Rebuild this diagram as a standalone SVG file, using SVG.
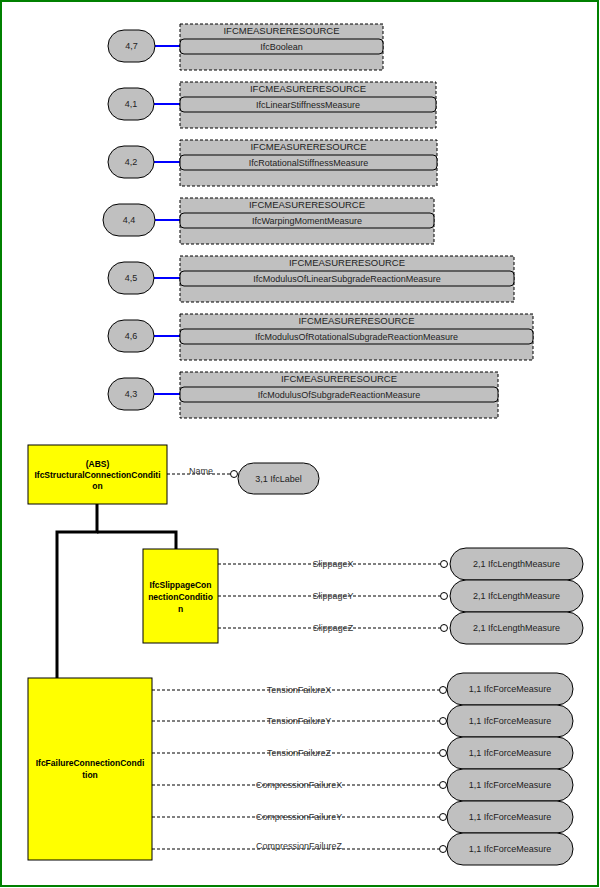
<svg xmlns="http://www.w3.org/2000/svg" width="600" height="888" viewBox="0 0 600 888">
<style>
text{font-family:"Liberation Sans",Arial,sans-serif;fill:#222;}
.pkg{fill:#c0c0c0;stroke:#000;stroke-width:1;stroke-dasharray:3,2;}
.inner{fill:#c0c0c0;stroke:#000;stroke-width:1;}
.oval{fill:#c0c0c0;stroke:#000;stroke-width:1;}
.ent{fill:#ffff00;stroke:#000;stroke-width:1;}
.hdr{font-size:9.5px;text-anchor:middle;}
.t9{font-size:9px;text-anchor:middle;}
.bold{font-size:8.5px;font-weight:bold;text-anchor:middle;fill:#000;}
.blue{stroke:#0000ff;stroke-width:2;fill:none;}
.dash{stroke:#000;stroke-width:1;stroke-dasharray:3,2;fill:none;}
.tree{stroke:#000;stroke-width:3;fill:none;}
.circ{fill:#fff;stroke:#000;stroke-width:1;}
.lbl{font-size:9px;text-anchor:middle;fill:#333;}
</style>
<rect x="1" y="1" width="597" height="885" fill="#fff" stroke="#008000" stroke-width="2"/>

<g id="connectors">
  <line class="blue" x1="155" y1="46" x2="180" y2="46"/>
  <line class="blue" x1="154" y1="104" x2="180" y2="104"/>
  <line class="blue" x1="154" y1="162" x2="180" y2="162"/>
  <line class="blue" x1="155" y1="220" x2="180" y2="220"/>
  <line class="blue" x1="154" y1="278" x2="180" y2="278"/>
  <line class="blue" x1="154" y1="336" x2="180" y2="336"/>
  <line class="blue" x1="154" y1="394" x2="180" y2="394"/>

  <polyline class="tree" points="97,504 97,532 57,532 57,678"/>
  <polyline class="tree" points="97,532 176,532 176,549"/>

  <line class="dash" x1="167" y1="474" x2="230" y2="474"/>
  <circle class="circ" cx="234" cy="474" r="3.5"/>
  <text class="lbl" x="201" y="474" fill="#223">Name</text>

  <line class="dash" x1="218" y1="564" x2="440" y2="564"/>
  <circle class="circ" cx="444" cy="564" r="3.5"/>
  <text class="lbl" x="333" y="567">SlippageX</text>
  <line class="dash" x1="218" y1="596" x2="440" y2="596"/>
  <circle class="circ" cx="444" cy="596" r="3.5"/>
  <text class="lbl" x="333" y="599">SlippageY</text>
  <line class="dash" x1="218" y1="628" x2="440" y2="628"/>
  <circle class="circ" cx="444" cy="628" r="3.5"/>
  <text class="lbl" x="333" y="631">SlippageZ</text>

  <line class="dash" x1="152" y1="690" x2="439" y2="690"/>
  <circle class="circ" cx="443" cy="690" r="3.5"/>
  <text class="lbl" x="299" y="693">TensionFailureX</text>
  <line class="dash" x1="152" y1="721" x2="439" y2="721"/>
  <circle class="circ" cx="443" cy="721" r="3.5"/>
  <text class="lbl" x="299" y="724">TensionFailureY</text>
  <line class="dash" x1="152" y1="753" x2="439" y2="753"/>
  <circle class="circ" cx="443" cy="753" r="3.5"/>
  <text class="lbl" x="299" y="756">TensionFailureZ</text>
  <line class="dash" x1="152" y1="785" x2="439" y2="785"/>
  <circle class="circ" cx="443" cy="785" r="3.5"/>
  <text class="lbl" x="299" y="788">CompressionFailureX</text>
  <line class="dash" x1="152" y1="817" x2="439" y2="817"/>
  <circle class="circ" cx="443" cy="817" r="3.5"/>
  <text class="lbl" x="299" y="820">CompressionFailureY</text>
  <line class="dash" x1="152" y1="849" x2="439" y2="849"/>
  <circle class="circ" cx="443" cy="849" r="3.5"/>
  <text class="lbl" x="299" y="849">CompressionFailureZ</text>
</g>

<g id="n47">
  <rect class="oval" x="108" y="30" width="47" height="32" rx="16"/>
  <text class="t9" x="131.5" y="49">4,7</text>
</g>
<g id="p47">
  <rect class="pkg" x="180" y="24" width="203" height="46"/>
  <text class="hdr" x="281.5" y="34">IFCMEASURERESOURCE</text>
  <rect class="inner" x="180" y="39" width="203" height="15" rx="4"/>
  <text class="t9" x="281.5" y="49.5">IfcBoolean</text>
</g>

<g id="n41">
  <rect class="oval" x="108" y="88" width="46" height="32" rx="16"/>
  <text class="t9" x="131" y="107">4,1</text>
</g>
<g id="p41">
  <rect class="pkg" x="180" y="82" width="256" height="46"/>
  <text class="hdr" x="308" y="92">IFCMEASURERESOURCE</text>
  <rect class="inner" x="180" y="97" width="256" height="15" rx="4"/>
  <text class="t9" x="308" y="107.5">IfcLinearStiffnessMeasure</text>
</g>

<g id="n42">
  <rect class="oval" x="108" y="146" width="46" height="32" rx="16"/>
  <text class="t9" x="131" y="165">4,2</text>
</g>
<g id="p42">
  <rect class="pkg" x="180" y="140" width="257" height="46"/>
  <text class="hdr" x="308.5" y="150">IFCMEASURERESOURCE</text>
  <rect class="inner" x="180" y="155" width="257" height="15" rx="4"/>
  <text class="t9" x="308.5" y="165.5">IfcRotationalStiffnessMeasure</text>
</g>

<g id="n44">
  <rect class="oval" x="103" y="204" width="52" height="32" rx="16"/>
  <text class="t9" x="129" y="223">4,4</text>
</g>
<g id="p44">
  <rect class="pkg" x="180" y="198" width="254" height="46"/>
  <text class="hdr" x="307" y="208">IFCMEASURERESOURCE</text>
  <rect class="inner" x="180" y="213" width="254" height="15" rx="4"/>
  <text class="t9" x="307" y="223.5">IfcWarpingMomentMeasure</text>
</g>

<g id="n45">
  <rect class="oval" x="108" y="262" width="46" height="32" rx="16"/>
  <text class="t9" x="131" y="281">4,5</text>
</g>
<g id="p45">
  <rect class="pkg" x="180" y="256" width="334" height="46"/>
  <text class="hdr" x="347" y="266">IFCMEASURERESOURCE</text>
  <rect class="inner" x="180" y="271" width="334" height="15" rx="4"/>
  <text class="t9" x="347" y="281.5">IfcModulusOfLinearSubgradeReactionMeasure</text>
</g>

<g id="n46">
  <rect class="oval" x="108" y="320" width="46" height="32" rx="16"/>
  <text class="t9" x="131" y="339">4,6</text>
</g>
<g id="p46">
  <rect class="pkg" x="180" y="314" width="353" height="46"/>
  <text class="hdr" x="356.5" y="324">IFCMEASURERESOURCE</text>
  <rect class="inner" x="180" y="329" width="353" height="15" rx="4"/>
  <text class="t9" x="356.5" y="339.5">IfcModulusOfRotationalSubgradeReactionMeasure</text>
</g>

<g id="n43">
  <rect class="oval" x="108" y="378" width="46" height="32" rx="16"/>
  <text class="t9" x="131" y="397">4,3</text>
</g>
<g id="p43">
  <rect class="pkg" x="180" y="372" width="318" height="46"/>
  <text class="hdr" x="339" y="382">IFCMEASURERESOURCE</text>
  <rect class="inner" x="180" y="387" width="318" height="15" rx="4"/>
  <text class="t9" x="339" y="397.5">IfcModulusOfSubgradeReactionMeasure</text>
</g>

<g id="structural">
  <rect class="ent" x="28" y="445" width="139" height="59"/>
  <text class="bold" x="97.5" y="467">(ABS)</text>
  <text class="bold" x="97.5" y="478">IfcStructuralConnectionConditi</text>
  <text class="bold" x="97.5" y="489">on</text>
</g>

<g id="label31">
  <rect class="oval" x="238" y="463" width="81" height="31" rx="15.5"/>
  <text class="t9" x="278.5" y="481.5">3,1 IfcLabel</text>
</g>

<g id="slippage">
  <rect class="ent" x="143" y="549" width="75" height="94"/>
  <text class="bold" x="180.5" y="588">IfcSlippageCon</text>
  <text class="bold" x="180.5" y="600">nectionConditio</text>
  <text class="bold" x="180.5" y="612">n</text>
</g>

<g id="len1">
  <rect class="oval" x="450" y="548" width="133" height="32" rx="16"/>
  <text class="t9" x="516.5" y="567">2,1 IfcLengthMeasure</text>
</g>
<g id="len2">
  <rect class="oval" x="450" y="580" width="133" height="32" rx="16"/>
  <text class="t9" x="516.5" y="599">2,1 IfcLengthMeasure</text>
</g>
<g id="len3">
  <rect class="oval" x="450" y="612" width="133" height="32" rx="16"/>
  <text class="t9" x="516.5" y="631">2,1 IfcLengthMeasure</text>
</g>

<g id="failure">
  <rect class="ent" x="28" y="678" width="124" height="182"/>
  <text class="bold" x="90" y="766">IfcFailureConnectionCondi</text>
  <text class="bold" x="90" y="778">tion</text>
</g>

<g id="f1">
  <rect class="oval" x="447" y="673" width="126" height="32" rx="16"/>
  <text class="t9" x="510" y="692">1,1 IfcForceMeasure</text>
</g>
<g id="f2">
  <rect class="oval" x="447" y="705" width="126" height="32" rx="16"/>
  <text class="t9" x="510" y="724">1,1 IfcForceMeasure</text>
</g>
<g id="f3">
  <rect class="oval" x="447" y="737" width="126" height="32" rx="16"/>
  <text class="t9" x="510" y="756">1,1 IfcForceMeasure</text>
</g>
<g id="f4">
  <rect class="oval" x="447" y="769" width="126" height="32" rx="16"/>
  <text class="t9" x="510" y="788">1,1 IfcForceMeasure</text>
</g>
<g id="f5">
  <rect class="oval" x="447" y="801" width="126" height="32" rx="16"/>
  <text class="t9" x="510" y="820">1,1 IfcForceMeasure</text>
</g>
<g id="f6">
  <rect class="oval" x="447" y="833" width="126" height="32" rx="16"/>
  <text class="t9" x="510" y="852">1,1 IfcForceMeasure</text>
</g>
</svg>
